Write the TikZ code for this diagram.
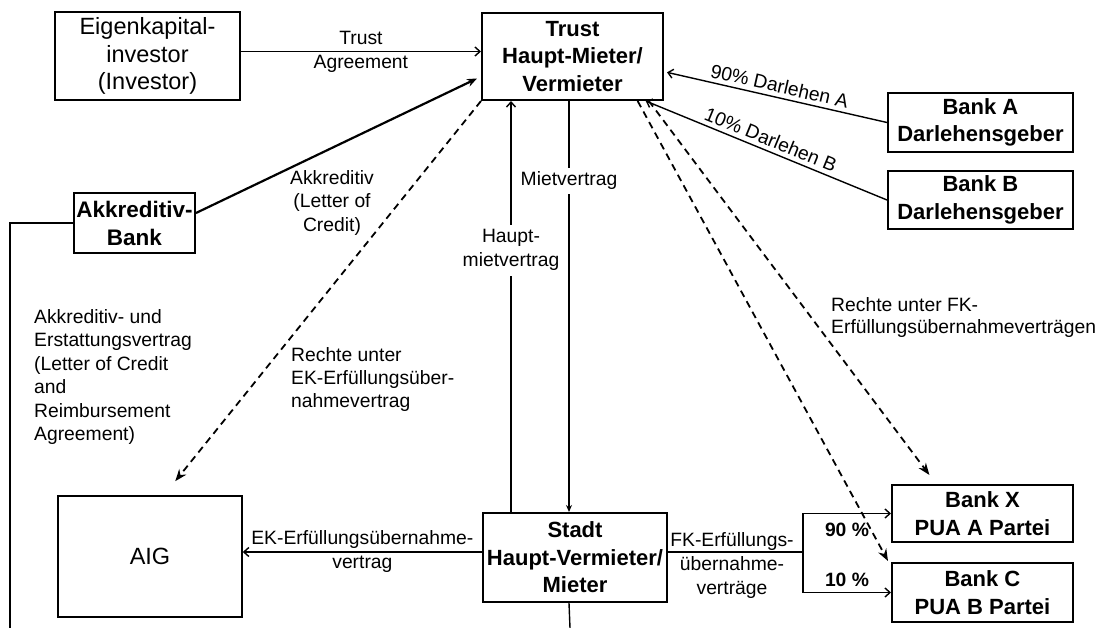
\documentclass[tikz,border=0pt]{standalone}
\usepackage{fontspec}
\setmainfont{Liberation Sans}
\usetikzlibrary{arrows.meta,calc}
\begin{document}
\begin{tikzpicture}[x=1pt,y=-1pt,
  box/.style={draw, line width=1.6pt, inner sep=0pt, align=center, font=\fontsize{23.5}{27.5}\selectfont},
  bbox/.style={box, line width=2pt, font=\fontsize{22}{27.5}\selectfont\bfseries},
  lbl/.style={font=\fontsize{19.3}{24}\selectfont, inner sep=1pt, align=center},
  ln/.style={line width=1.4pt, >={Straight Barb[length=5pt,width=9pt]}},
  dsh/.style={line width=1.8pt, dash pattern=on 7pt off 5pt, -{Stealth[length=12pt,width=9pt]}}
]
\useasboundingbox (0,0) rectangle (1098,628);

% boxes
\node[box, minimum width=185pt, minimum height=88pt] (inv) at (147.5,56) {Eigenkapital-\\investor\\(Investor)};
\node[bbox, minimum width=181pt, minimum height=87pt] (trust) at (572.5,56.5) {Trust\\Haupt-Mieter/\\Vermieter};
\node[bbox, minimum width=121pt, minimum height=60pt, font=\fontsize{22.5}{28}\selectfont\bfseries] (akk) at (134.5,223) {Akkreditiv-\\Bank};
\node[bbox, minimum width=185pt, minimum height=59pt] (banka) at (980.5,122.5) {Bank A\\Darlehensgeber};
\node[bbox, minimum width=185pt, minimum height=58pt] (bankb) at (980.5,200) {Bank B\\Darlehensgeber};
\node[box, minimum width=184pt, minimum height=121pt] (aig) at (150,556.5) {AIG};
\node[bbox, minimum width=184pt, minimum height=89pt] (stadt) at (575,557.5) {Stadt\\Haupt-Vermieter/\\Mieter};
\node[bbox, minimum width=181pt, minimum height=57pt] (bankx) at (982.5,513.5) {Bank X\\PUA A Partei};
\node[bbox, minimum width=181pt, minimum height=59pt] (bankc) at (982.5,592.5) {Bank C\\PUA B Partei};

% Trust agreement
\draw[ln,->] ([yshift=4.5pt]inv.east) -- ([yshift=4.5pt]inv.east -| trust.west)
  node[lbl, midway] {Trust\\Agreement};

% Akkreditiv
\draw[line width=2.2pt, -{Stealth[length=10pt,width=8pt]}] ([yshift=10pt]akk.east) -- ($(trust.north west)!0.747!(trust.south west)+(-4,0)$);
\node[lbl, font=\fontsize{19.3}{23.5}\selectfont] (akl) at (332,203) {Akkreditiv\\(Letter of\\Credit)};

% loans
\draw[ln,<-] ($(trust.north east)!0.678!(trust.south east)+(3,0)$) -- (banka.west)
  node[lbl, midway, above=3pt, sloped] {90\% Darlehen A};
\draw[ln,<-] ($(trust.south west)!0.9!(trust.south east)$) -- (bankb.west)
  node[lbl, midway, above=3pt, sloped] {10\% Darlehen B};

% dashed rights
\draw[dsh] (trust.south west) -- ($(aig.north west)!0.636!(aig.north east)+(0,-14)$);
\draw[dsh] ($(trust.south west)!0.856!(trust.south east)$) -- ($(bankc.north west)+(-3,-1)$);
\draw[dsh] ($(trust.south west)!0.917!(trust.south east)$) -- ($(bankx.north west)!0.21!(bankx.north east)+(0,-9)$);
\node[lbl, align=left, anchor=west, font=\fontsize{19.3}{23}\selectfont] (rek) at (290,380) {Rechte unter\\EK-Erfüllungsüber-\\nahmevertrag};
\node[lbl, align=left, anchor=west, font=\fontsize{19.3}{22}\selectfont] (rfk) at (830,318) {Rechte unter FK-\\Erfüllungsübernahmeverträgen};

% Haupt-Mietvertrag / Mietvertrag
\coordinate (h1) at ($(stadt.north west)+(29,0)$);
\draw[ln,->] (h1) -- (h1 |- trust.south)
  node[lbl, pos=0.637, fill=white, inner ysep=5pt] {Haupt-\\mietvertrag};
\coordinate (m1) at ($(trust.south west)+(88,0)$);
\draw[ln, -{Stealth[length=7pt,width=6pt]}] (m1) -- (m1 |- stadt.north)
  node[lbl, pos=0.194, fill=white, inner ysep=4pt] {Mietvertrag};
\coordinate (sb) at (570,628);
\draw[ln] (stadt.south -| m1) -- (sb);

% Akkreditiv-Bank left line
\coordinate (lb) at (10,628);
\draw[line width=2pt] (akk.west) -| (lb);
\node[lbl, align=left, anchor=west, font=\fontsize{19.3}{23.4}\selectfont] (akv) at (33,377) {Akkreditiv- und\\Erstattungsvertrag\\(Letter of Credit\\and\\Reimbursement\\Agreement)};

% EK
\draw[ln,->] ([yshift=5.5pt]stadt.west) -- ([yshift=4.5pt]aig.east)
  node[lbl, midway] {EK-Erfüllungsübernahme-\\vertrag};

% FK
\coordinate (fk) at (803,552);
\draw[ln] ([yshift=5.5pt]stadt.east) -- (fk);
\draw[ln,->] (fk) |- (bankx.west);
\draw[ln,->] (fk) |- (bankc.west);
\node[lbl] (fkl) at (732,566) {FK-Erfüllungs-\\übernahme-\\verträge};
\node[lbl, font=\fontsize{19.3}{24}\selectfont\bfseries] (p90) at (847,530) {90 \%};
\node[lbl, font=\fontsize{19.3}{24}\selectfont\bfseries] (p10) at (847,580) {10 \%};
\end{tikzpicture}
\end{document}
